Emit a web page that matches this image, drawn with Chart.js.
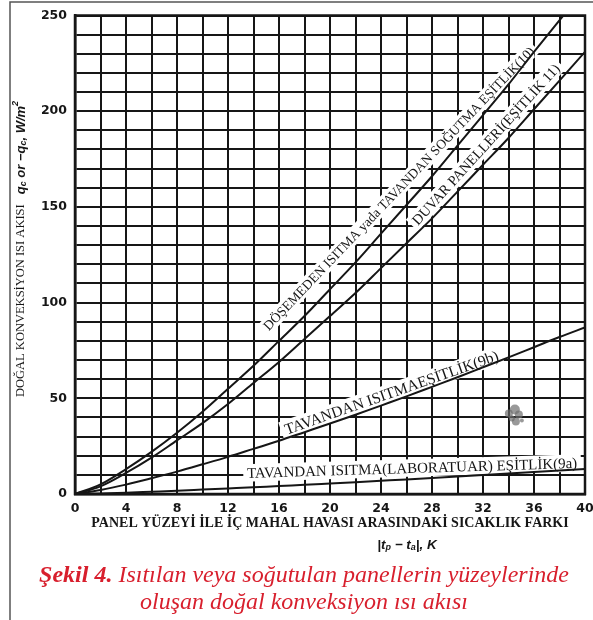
<!DOCTYPE html>
<html>
<head>
<meta charset="utf-8">
<script src="https://cdn.jsdelivr.net/npm/chart.js@4.4.1/dist/chart.umd.min.js"></script>
<style>
  body { margin: 0; background: #fff; }
  #kutu { position: relative; width: 593px; height: 620px; }
</style>
</head>
<body>
<div id="kutu"><canvas id="grafikKonveksiyon"></canvas></div>
<script>
// Sıcaklık farkı |tp - ta| (K)
const sicaklikFarki = [0, 2, 4, 6, 8, 10, 12, 14, 16, 18, 20, 22, 24, 26, 28, 30, 32, 34, 36, 38, 40]

// Eşitlik (10) - döşemeden ısıtma / tavandan soğutma (250'de grafikten çıkıyor)
const esitlik10X = [0, 2, 4, 6, 8, 10, 12, 14, 16, 18, 20, 22, 24, 26, 28, 30, 32, 34, 36, 38.3]
const esitlik10 = [0, 5, 13, 22, 32, 43, 55, 67, 80, 93, 107, 121, 136, 151, 166, 182, 198, 214, 231, 250]

// Eşitlik (11) - duvar panelleri
const esitlik11 = [0, 4, 11, 19, 28, 37, 47, 58, 69, 81, 93, 105, 118, 131, 144, 158, 172, 186, 201, 216, 231]

// Eşitlik (9b) - tavandan ısıtma
const esitlik9b = [0, 2.1, 4.9, 8.2, 11.7, 15.5, 19.4, 23.6, 27.8, 32.3, 36.8, 41.4, 46.2, 51, 56, 61, 66.2, 71.4, 76.7, 82, 87]

// Eşitlik (9a) - tavandan ısıtma (laboratuar)
const esitlik9a = [0, 0.3, 0.7, 1.2, 1.7, 2.3, 2.9, 3.5, 4.2, 4.8, 5.5, 6.2, 6.9, 7.6, 8.4, 9.1, 9.9, 10.7, 11.5, 12.3, 13]

// Eksen etiketleri
const xEtiketleri = [0, 4, 8, 12, 16, 20, 24, 28, 32, 36, 40]
const yEtiketleri = [0, 50, 100, 150, 200, 250]

// Eğri üzerindeki yazılar (veri koordinatında başlangıç / bitiş)
const egriYazilari = [
  { metin: "DÖŞEMEDEN ISITMA yada TAVANDAN SOĞUTMA EŞİTLİK(10)", bas: [15.2, 85], son: [36.1, 231] },
  { metin: "DUVAR PANELLERİ(EŞİTLİK 11)", bas: [26.9, 140], son: [38.1, 222] },
  { metin: "TAVANDAN ISITMAEŞİTLİK(9b)", bas: [16.6, 31], son: [33.3, 70] },
  { metin: "TAVANDAN ISITMA(LABORATUAR) EŞİTLİK(9a)", bas: [13.5, 8.4], son: [39.4, 13.6] },
]

const siyah = "#161616"
const yaziFontu = "12px 'Liberation Serif'"

function noktalar(xs, ys) {
  return xs.map((x, i) => ({ x: x, y: ys[i] }))
}

function seri(veri) {
  return {
    data: veri,
    borderColor: siyah,
    borderWidth: 2,
    pointRadius: 0,
    fill: false,
    cubicInterpolationMode: "monotone",
  }
}

// yazının piksel konumu, açısı ve ölçeği
function yaziKonumu(chart, e) {
  const { ctx, scales } = chart
  const x1 = scales.x.getPixelForValue(e.bas[0])
  const y1 = scales.y.getPixelForValue(e.bas[1])
  const x2 = scales.x.getPixelForValue(e.son[0])
  const y2 = scales.y.getPixelForValue(e.son[1])
  ctx.font = yaziFontu
  const w = ctx.measureText(e.metin).width
  return { x1, y1, aci: Math.atan2(y2 - y1, x2 - x1), k: Math.hypot(x2 - x1, y2 - y1) / w, w }
}

// Eğri yazıları: beyaz bant (grid'i keser) + metin
const yaziEklentisi = {
  id: "egriYazilari",
  beforeDatasetsDraw(chart) {
    const { ctx } = chart
    ctx.save()
    egriYazilari.forEach((e) => {
      const p = yaziKonumu(chart, e)
      ctx.save()
      ctx.translate(p.x1, p.y1)
      ctx.rotate(p.aci)
      ctx.scale(p.k, p.k)
      ctx.fillStyle = "#fff"
      ctx.fillRect(-3, -11, p.w + 6, 14)
      ctx.restore()
    })
    ctx.restore()
  },
  afterDatasetsDraw(chart) {
    const { ctx, scales, chartArea } = chart
    ctx.save()
    ctx.fillStyle = siyah
    ctx.textBaseline = "alphabetic"
    egriYazilari.forEach((e) => {
      const p = yaziKonumu(chart, e)
      ctx.save()
      ctx.translate(p.x1, p.y1)
      ctx.rotate(p.aci)
      ctx.scale(p.k, p.k)
      ctx.font = yaziFontu
      ctx.fillText(e.metin, 0, 0)
      ctx.restore()
    })

    // taramadaki gri leke
    const lx = scales.x.getPixelForValue(34.5)
    const ly = scales.y.getPixelForValue(41)
    ctx.fillStyle = "rgba(110,110,110,0.7)"
    ;[[0, -6, 5], [-6, -2, 4], [4, -1, 4], [1, 6, 4], [-3, 3, 3], [7, 5, 2]].forEach((q) => {
      ctx.beginPath()
      ctx.arc(lx + q[0], ly + q[1], q[2], 0, Math.PI * 2)
      ctx.fill()
    })

    // grafik çerçevesi
    ctx.strokeStyle = siyah
    ctx.lineWidth = 2.5
    ctx.strokeRect(chartArea.left, chartArea.top, chartArea.right - chartArea.left, chartArea.bottom - chartArea.top)
    ctx.restore()
  },
}

// Eksen başlıkları, şekil altyazısı ve dış çerçeve
const baslikEklentisi = {
  id: "basliklar",
  afterDraw(chart) {
    const { ctx } = chart
    ctx.save()

    // dış çerçeve (sol ve üst)
    ctx.strokeStyle = "#555"
    ctx.lineWidth = 1.5
    ctx.beginPath()
    ctx.moveTo(10, 620)
    ctx.lineTo(10, 2)
    ctx.lineTo(593, 2)
    ctx.stroke()

    ctx.fillStyle = siyah
    ctx.textBaseline = "middle"

    // y ekseni başlığı
    ctx.save()
    ctx.translate(21, 397)
    ctx.rotate(-Math.PI / 2)
    let x = 0
    ctx.font = "12.5px 'Liberation Serif'"
    ctx.fillText("DOĞAL KONVEKSİYON ISI AKISI", x, 0)
    x += ctx.measureText("DOĞAL KONVEKSİYON ISI AKISI").width + 10
    const parcalar = [
      ["q", 0, 13], ["c", 3, 9], [" or \u2212q", 0, 13], ["c", 3, 9], [", W/m", 0, 13], ["2", -5, 9],
    ]
    parcalar.forEach((q) => {
      ctx.font = `italic bold ${q[2]}px 'Liberation Sans'`
      ctx.fillText(q[0], x, q[1])
      x += ctx.measureText(q[0]).width
    })
    ctx.restore()

    // x ekseni başlığı
    ctx.textAlign = "center"
    ctx.font = "bold 14px 'Liberation Serif'"
    ctx.fillText("PANEL YÜZEYİ İLE İÇ MAHAL HAVASI ARASINDAKİ SICAKLIK FARKI", 330, 523)

    const satir2 = [["|t", 0, 13.5], ["p", 3, 9], [" \u2212 t", 0, 13.5], ["a", 3, 9], ["|, K", 0, 13.5]]
    ctx.textAlign = "left"
    let toplam = 0
    satir2.forEach((q) => {
      ctx.font = `italic bold ${q[2]}px 'Liberation Sans'`
      toplam += ctx.measureText(q[0]).width
    })
    x = 407 - toplam / 2
    satir2.forEach((q) => {
      ctx.font = `italic bold ${q[2]}px 'Liberation Sans'`
      ctx.fillText(q[0], x, 545 + q[1])
      x += ctx.measureText(q[0]).width
    })

    // şekil altyazısı
    ctx.fillStyle = "#d81f2d"
    ctx.font = "italic bold 24px 'Liberation Serif'"
    const kalin = "Şekil 4."
    const ince = " Isıtılan veya soğutulan panellerin yüzeylerinde"
    const wk = ctx.measureText(kalin).width
    ctx.font = "italic 24px 'Liberation Serif'"
    const wi = ctx.measureText(ince).width
    x = 304 - (wk + wi) / 2
    ctx.font = "italic bold 24px 'Liberation Serif'"
    ctx.fillText(kalin, x, 576)
    ctx.font = "italic 24px 'Liberation Serif'"
    ctx.fillText(ince, x + wk, 576)
    ctx.textAlign = "center"
    ctx.fillText("oluşan doğal konveksiyon ısı akısı", 304, 603)

    ctx.restore()
  },
}

const ctxGrafik = document.getElementById("grafikKonveksiyon").getContext("2d")
const grafik = new Chart(ctxGrafik, {
  type: "line",
  data: {
    datasets: [
      seri(noktalar(esitlik10X, esitlik10)),
      seri(noktalar(sicaklikFarki, esitlik11)),
      seri(noktalar(sicaklikFarki, esitlik9b)),
      seri(noktalar(sicaklikFarki, esitlik9a)),
    ],
  },
  options: {
    responsive: true,
    maintainAspectRatio: false,
    animation: false,
    layout: {
      padding: { top: 15, right: 8, bottom: 106, left: 0 },
    },
    plugins: {
      legend: { display: false },
      tooltip: { enabled: false },
    },
    scales: {
      x: {
        type: "linear",
        min: 0,
        max: 40,
        afterFit: (scale) => {
          scale.height = 20
          scale.paddingLeft = 0
          scale.paddingRight = 0
        },
        ticks: {
          stepSize: 2,
          autoSkip: false,
          maxRotation: 0,
          padding: 7,
          color: siyah,
          font: { family: "'DejaVu Sans'", size: 12.5, weight: "bold" },
          callback: (v) => (xEtiketleri.includes(v) ? v : ""),
        },
        grid: { color: siyah, lineWidth: 2, drawTicks: false },
        border: { color: siyah, width: 2.5 },
      },
      y: {
        min: 0,
        max: 250,
        afterFit: (scale) => {
          scale.width = 75
        },
        ticks: {
          stepSize: 10,
          autoSkip: false,
          padding: 8,
          color: siyah,
          font: { family: "'DejaVu Sans'", size: 12.5, weight: "bold" },
          callback: (v) => (yEtiketleri.includes(v) ? v : ""),
        },
        grid: { color: siyah, lineWidth: 2, drawTicks: false },
        border: { color: siyah, width: 2.5 },
      },
    },
  },
  plugins: [yaziEklentisi, baslikEklentisi],
})
</script>
</body>
</html>
